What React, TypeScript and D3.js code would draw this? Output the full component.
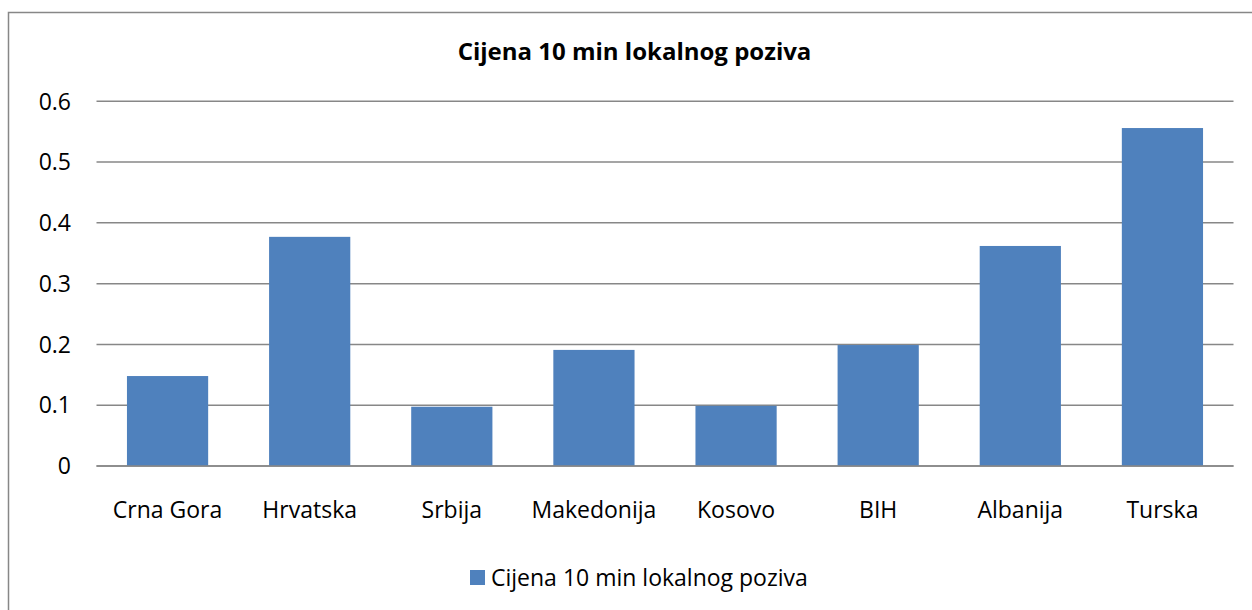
import React from 'react';
import * as d3 from 'd3';

const categories = ['Crna Gora', 'Hrvatska', 'Srbija', 'Makedonija', 'Kosovo', 'BIH', 'Albanija', 'Turska'];
const values = [0.148, 0.377, 0.0975, 0.191, 0.099, 0.199, 0.362, 0.556];
const yTicks = [0, 0.1, 0.2, 0.3, 0.4, 0.5, 0.6];
const seriesName = 'Cijena 10 min lokalnog poziva';
const title = 'Cijena 10 min lokalnog poziva';

const W = 1252;
const H = 610;
const plot = { left: 96.5, right: 1233.5, top: 101.3, bottom: 466 };
const font = '"Open Sans", sans-serif';
const barColor = '#4F81BD';
const gridColor = '#878787';

const App = () => {
  const x = d3.scaleBand<string>()
    .domain(categories)
    .range([plot.left, plot.right])
    .paddingInner(0.75 / 1.75)
    .paddingOuter(0.375 / 1.75);

  const y = d3.scaleLinear()
    .domain([0, 0.6])
    .range([plot.bottom, plot.top]);

  return (
    <svg
      width={W}
      height={H}
      style={{ position: 'absolute', left: 0, top: 0, background: '#fff' }}
    >
      {/* chart border */}
      <rect x={8.5} y={12.5} width={W} height={H} fill="#fff" stroke={gridColor} strokeWidth={1.5} />

      <text
        x={634.5}
        y={60}
        textAnchor="middle"
        fontFamily={font}
        fontWeight="bold"
        fontSize={24}
        fill="#000"
      >
        {title}
      </text>

      {/* gridlines + y labels */}
      {yTicks.map(t => (
        <g key={t}>
          <line
            x1={plot.left}
            x2={plot.right}
            y1={y(t)}
            y2={y(t)}
            stroke={gridColor}
            strokeWidth={1.5}
          />
          <text
            x={71}
            y={y(t)}
            dy="0.36em"
            textAnchor="end"
            fontFamily={font}
            fontSize={23}
            fill="#000"
          >
            {d3.format('')(t)}
          </text>
        </g>
      ))}

      {/* bars */}
      {categories.map((c, i) => (
        <rect
          key={c}
          x={x(c)}
          y={y(values[i])}
          width={x.bandwidth()}
          height={y(0) - y(values[i])}
          fill={barColor}
        />
      ))}

      {/* x axis line */}
      <line x1={plot.left} x2={plot.right} y1={y(0)} y2={y(0)} stroke={gridColor} strokeWidth={1.5} />

      {/* category labels */}
      {categories.map(c => (
        <text
          key={c}
          x={(x(c) as number) + x.bandwidth() / 2}
          y={518}
          textAnchor="middle"
          fontFamily={font}
          fontSize={23}
          fill="#000"
        >
          {c}
        </text>
      ))}

      {/* legend */}
      <rect x={470} y={570} width={15} height={15} fill={barColor} />
      <text x={491} y={577.5} dy="0.36em" fontFamily={font} fontSize={23} fill="#000">
        {seriesName}
      </text>
    </svg>
  );
};

export default App;
